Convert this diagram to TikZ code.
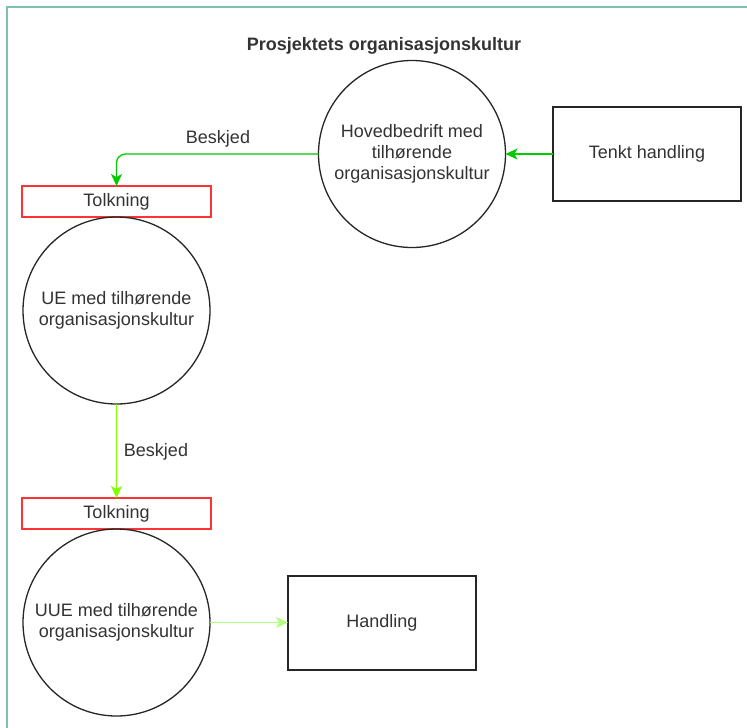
\documentclass[tikz,border=0pt]{standalone}
\usepackage{fontspec}
\setmainfont{Liberation Sans}
\usetikzlibrary{arrows.meta}
\definecolor{frameteal}{HTML}{7CC2B3}
\definecolor{msggreen}{HTML}{00CC00}
\definecolor{msglime}{HTML}{80FF00}
\definecolor{msgpale}{HTML}{B3FF80}
\definecolor{tolkred}{HTML}{FF3333}
\definecolor{inktext}{HTML}{333333}
\tikzset{
  every node/.style={font=\fontsize{18}{21}\selectfont, text=inktext},
  orgcircle/.style={draw=black!85, line width=1.3pt, circle, minimum size=187pt, inner sep=0pt, outer sep=0pt, align=center},
  actbox/.style={draw=black!85, line width=1.3pt, rectangle, minimum width=188pt, minimum height=94pt, inner sep=0pt, outer sep=0pt, align=center},
  tolkbox/.style={draw=tolkred, line width=1.3pt, rectangle, minimum width=189pt, minimum height=31pt, inner sep=0pt, outer sep=0pt},
  msgarrow/.style={line width=1.3pt, -{Stealth[length=12pt, width=11pt, inset=3pt]}},
  msglabel/.style={inner sep=0pt}
}
\begin{document}
\begin{tikzpicture}[x=1pt, y=-1pt]
  \useasboundingbox (0,0) rectangle (747,728);
  \fill[white] (0,0) rectangle (747,728);

  % container frame
  \draw[frameteal, line width=2pt] (7,728) -- (7,7) -- (747,7);

  % title
  \node[font=\bfseries\fontsize{18}{21}\selectfont] (title) at (384,46) {Prosjektets organisasjonskultur};

  % main contractor and the intended action
  \node[orgcircle] (hoved) at (412,154) {Hovedbedrift med\\tilhørende\\organisasjonskultur};
  \node[actbox] (tenkt) at (647,154) {Tenkt handling};

  % subcontractor chain
  \node[tolkbox] (tolk1) at (116.5,201.5) {Tolkning};
  \node[orgcircle, anchor=north] (ue) at (tolk1.south) {UE med tilhørende\\organisasjonskultur};
  \node[tolkbox] (tolk2) at (116.5,513.5) {Tolkning};
  \node[orgcircle, anchor=north] (uue) at (tolk2.south) {UUE med tilhørende\\organisasjonskultur};
  \node[actbox] (handling) at (382,623) {Handling};

  % messages
  \draw[msgarrow, msggreen] (tenkt.west) -- (hoved.east -| tenkt.west) -- (hoved.east);
  \draw[msgarrow, msggreen, rounded corners=9pt] (hoved.west) -| (tolk1.north);
  \draw[msgarrow, msglime] (ue.south) -- (tolk2.north);
  \draw[msgarrow, msgpale] (uue.east) -- (handling.west |- uue.east);

  \node[msglabel] (besk1) at (218,139) {Beskjed};
  \node[msglabel] (besk2) at (156,452) {Beskjed};
\end{tikzpicture}
\end{document}
